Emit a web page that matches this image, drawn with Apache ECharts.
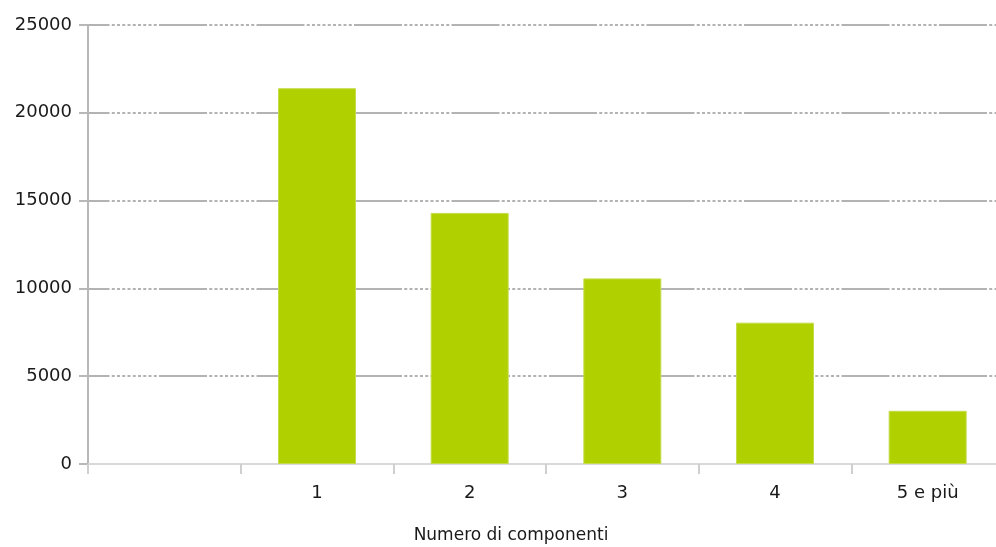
<!DOCTYPE html>
<html>
<head>
<meta charset="utf-8">
<script src="https://cdn.jsdelivr.net/npm/echarts@6/dist/echarts.min.js"></script>
<style>
  html, body { margin: 0; padding: 0; background: #ffffff; overflow: hidden; width: 996px; height: 547px; }
  /* the drawing surface is a bit wider than the page, so the last category is clipped at the right edge */
  #chart { width: 1004px; height: 547px; }
</style>
</head>
<body>
<div id="chart"></div>
<script>
// Household size categories (first slot is intentionally left empty)
const categories = ['', '1', '2', '3', '4', '5 e più'];
const households = [null, 21400, 14300, 10570, 8050, 3030];
const yTicks = [0, 5000, 10000, 15000, 20000, 25000];
const axisTitle = 'Numero di componenti';

// long dash followed by a run of short dashes
const gridDash = [48, 2.25];
for (let i = 0; i < 9; i++) { gridDash.push(3, 2.25); }

const chart = echarts.init(document.getElementById('chart'), null, { renderer: 'canvas' });
chart.setOption({
  animation: false,
  backgroundColor: '#ffffff',
  textStyle: { fontFamily: 'DejaVu Sans' },
  grid: { left: 88, right: 0, top: 25, bottom: 83, containLabel: false },
  xAxis: {
    type: 'category',
    data: categories,
    boundaryGap: true,
    axisLine: { show: true, lineStyle: { color: '#d9d9d9', width: 2 } },
    axisTick: { show: true, length: 10, alignWithLabel: false, lineStyle: { color: '#cfcfcf', width: 2 } },
    axisLabel: { color: '#1a1a1a', fontSize: 18, margin: 20, fontFamily: 'DejaVu Sans' },
    splitLine: { show: false }
  },
  yAxis: {
    type: 'value',
    min: yTicks[0],
    max: yTicks[yTicks.length - 1],
    interval: yTicks[1] - yTicks[0],
    axisLine: { show: true, lineStyle: { color: '#b8b8b8', width: 2 } },
    axisTick: { show: true, length: 9, lineStyle: { color: '#b8b8b8', width: 2 } },
    axisLabel: {
      color: '#1a1a1a', fontSize: 18, margin: 16, fontFamily: 'DejaVu Sans',
      formatter: function (v) { return String(v); }
    },
    splitLine: {
      show: true,
      lineStyle: { color: '#b3b3b3', width: 2, type: gridDash, dashOffset: 26.5 }
    }
  },
  series: [{
    type: 'bar',
    data: households,
    barWidth: 78,
    itemStyle: { color: '#b0d000', borderColor: '#c4dc4a', borderWidth: 1 }
  }],
  graphic: [{
    type: 'text',
    x: 511,
    y: 536,
    style: {
      text: axisTitle,
      fill: '#1a1a1a',
      font: '17px "DejaVu Sans"',
      textAlign: 'center',
      textVerticalAlign: 'middle'
    }
  }]
});
</script>
</body>
</html>
